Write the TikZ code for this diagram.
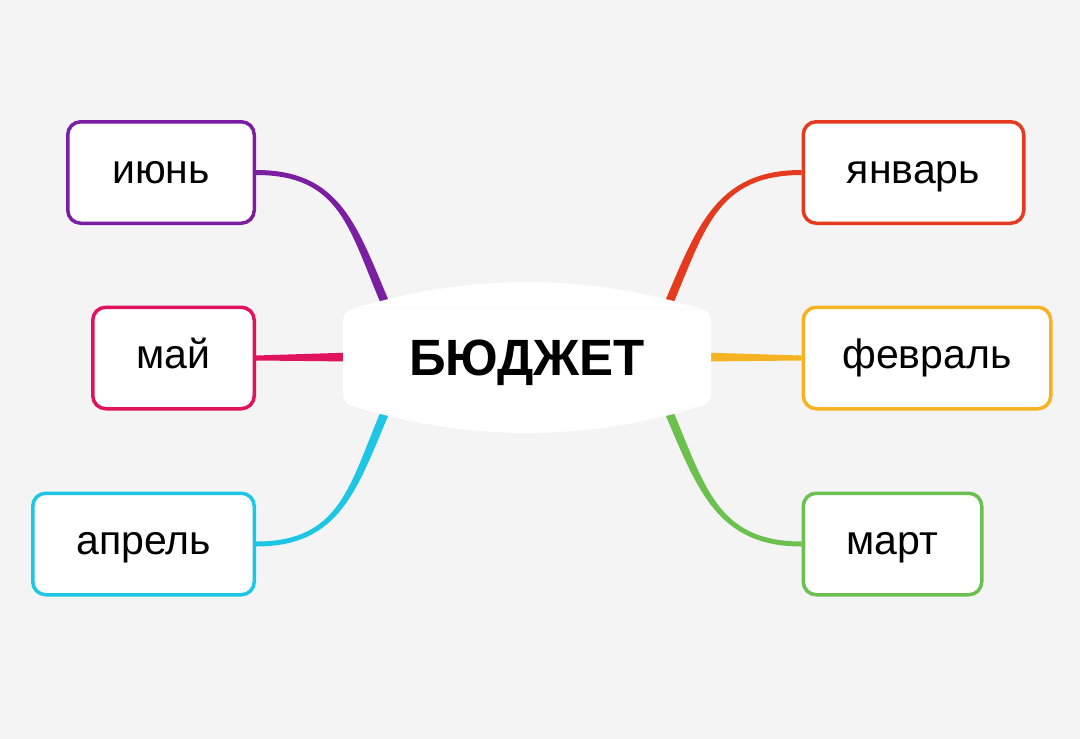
\documentclass[tikz,border=0pt]{standalone}
\usepackage{fontspec}
\setmainfont{Liberation Sans}
\definecolor{bgcol}{HTML}{F4F4F4}
\definecolor{juncol}{HTML}{7B1FA2}
\definecolor{maycol}{HTML}{E0135C}
\definecolor{aprcol}{HTML}{1EC6E6}
\definecolor{jancol}{HTML}{E63A1E}
\definecolor{febcol}{HTML}{F5B324}
\definecolor{marcol}{HTML}{6CC04E}
\begin{document}
\begin{tikzpicture}[
    x=1pt,
    y=-1pt,
    month/.style={
        draw,
        fill=white,
        line width=3.5pt,
        rounded corners=13pt,
        inner sep=0pt,
        minimum height=101.5pt,
        text height=21.5pt,
        text depth=0pt,
        font=\fontsize{41}{49}\selectfont},
    hub/.style={
        fill=white,
        rounded corners=12pt,
        inner sep=0pt,
        minimum width=368pt,
        minimum height=98pt,
        text height=36.5pt,
        text depth=0pt,
        font=\fontsize{51}{60}\selectfont\bfseries}]
    \fill[bgcol] (0,0) rectangle (1080,739);

    \node[month, draw=juncol, minimum width=186.5pt, anchor=east] (jun) at (256,172.5) {июнь};
    \node[month, draw=maycol, minimum width=161.5pt, anchor=east] (may) at (256,358) {май};
    \node[month, draw=aprcol, minimum width=221.5pt, anchor=east] (apr) at (256,544) {апрель};

    \node[month, draw=jancol, minimum width=220.5pt, anchor=west] (jan) at (801.5,172.5) {январь};
    \node[month, draw=febcol, minimum width=247.5pt, anchor=west] (feb) at (801.5,358) {февраль};
    \node[month, draw=marcol, minimum width=178.5pt, anchor=west] (mar) at (801.5,544) {март};

    \coordinate (jun-end) at (386,305);
    \coordinate (may-end) at (352,357);
    \coordinate (apr-end) at (386,410);
    \coordinate (jan-end) at (668,305);
    \coordinate (feb-end) at (702,357);
    \coordinate (mar-end) at (668,410);

    \fill[juncol] ([yshift=2.5pt]jun.east) .. controls +(85,0) and +(-33,-77) .. ([shift={(3.9,-1.7)}]jun-end)
        -- ([shift={(-3.9,1.7)}]jun-end) .. controls +(-33,-77) and +(85,0) .. ([yshift=-2.5pt]jun.east) -- cycle;
    \fill[maycol] ([yshift=2.5pt]may.east) -- ([yshift=4.5pt]may-end) -- ([yshift=-4.5pt]may-end) -- ([yshift=-2.5pt]may.east) -- cycle;
    \fill[aprcol] ([yshift=-2.5pt]apr.east) .. controls +(85,0) and +(-33,77) .. ([shift={(3.9,1.7)}]apr-end)
        -- ([shift={(-3.9,-1.7)}]apr-end) .. controls +(-33,77) and +(85,0) .. ([yshift=2.5pt]apr.east) -- cycle;
    \fill[jancol] ([yshift=2.5pt]jan.west) .. controls +(-85,0) and +(33,-77) .. ([shift={(-3.9,-1.7)}]jan-end)
        -- ([shift={(3.9,1.7)}]jan-end) .. controls +(33,-77) and +(-85,0) .. ([yshift=-2.5pt]jan.west) -- cycle;
    \fill[febcol] ([yshift=2.5pt]feb.west) -- ([yshift=4.5pt]feb-end) -- ([yshift=-4.5pt]feb-end) -- ([yshift=-2.5pt]feb.west) -- cycle;
    \fill[marcol] ([yshift=-2.5pt]mar.west) .. controls +(-85,0) and +(33,77) .. ([shift={(-3.9,1.7)}]mar-end)
        -- ([shift={(3.9,-1.7)}]mar-end) .. controls +(33,77) and +(-85,0) .. ([yshift=2.5pt]mar.west) -- cycle;

    \node[hub] (hub) at (527,357.5) {БЮДЖЕТ};
    \fill[white] ([xshift=12pt]hub.north west) .. controls +(115,-35) and +(-115,-35) .. ([xshift=-12pt]hub.north east) -- cycle;
    \fill[white] ([xshift=12pt]hub.south west) .. controls +(115,35) and +(-115,35) .. ([xshift=-12pt]hub.south east) -- cycle;
\end{tikzpicture}
\end{document}
